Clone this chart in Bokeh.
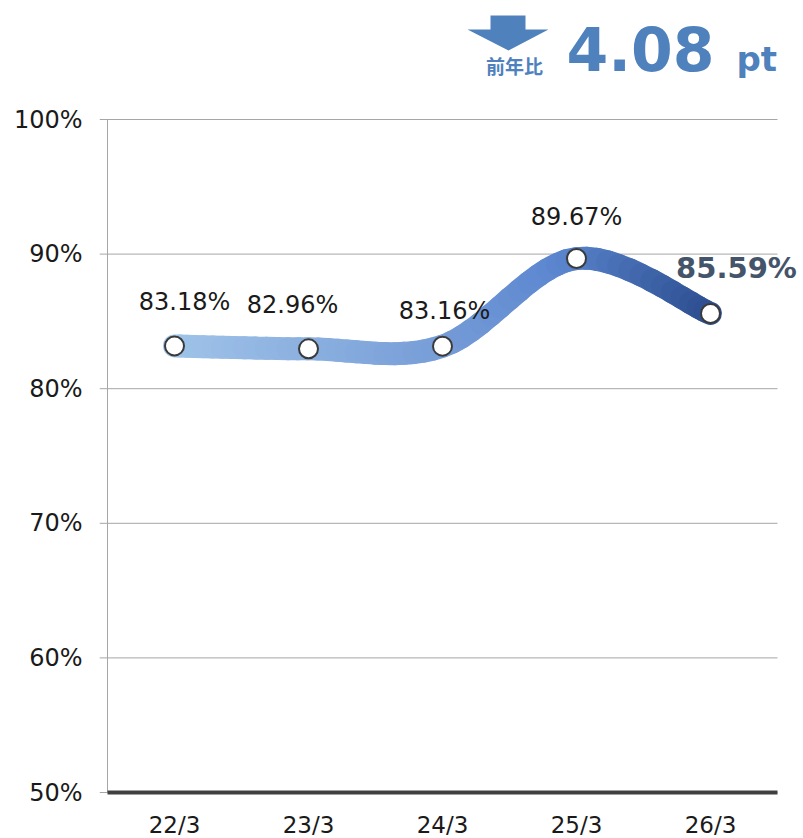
import numpy as np
from bokeh.plotting import figure
from bokeh.models import (Range1d, FixedTicker, PrintfTickFormatter, LabelSet,
                          PolyAnnotation, ColumnDataSource)
from bokeh.core.properties import value
from bokeh.embed import file_html
from bokeh.resources import INLINE

# ---------------- data ----------------
categories = ["22/3", "23/3", "24/3", "25/3", "26/3"]
rates = [83.18, 82.96, 83.16, 89.67, 85.59]
rate_labels = ["83.18%", "82.96%", "83.16%", "89.67%", "85.59%"]
y_ticks = [50, 60, 70, 80, 90, 100]
change_value = "4.08"
change_unit = "pt"
change_caption = "前年比"

# ---------------- styling / layout ----------------
label_dx = [10, -16, 2, 0, 26]
label_dy = [36, 36, 27, 34, 35]
FONT = "DejaVu Sans"
HEAD_BLUE = "#4f81bd"
grad_stops = [(0.0, (160, 196, 232)), (0.5, (120, 158, 216)),
              (0.72, (92, 135, 208)), (1.0, (46, 80, 146))]

W, H = 803, 838
PLOT_L, PLOT_R, PLOT_T, PLOT_B = 107, 777, 119, 792   # page pixels of the plotting area
TICK = 8
FRAME_L = PLOT_L - TICK

n = len(categories)
xs = np.arange(n, dtype=float)
ys = np.array(rates, dtype=float)

x_lo, x_hi = -0.5, n - 0.5
y_lo, y_hi = y_ticks[0], y_ticks[-1]
sx = (PLOT_R - PLOT_L) / (x_hi - x_lo)
sy = (PLOT_B - PLOT_T) / (y_hi - y_lo)

x_range = Range1d(x_lo - (PLOT_L - FRAME_L) / sx, x_hi + (W - PLOT_R) / sx)
y_range = Range1d(y_lo - (H - PLOT_B) / sy, y_hi + PLOT_T / sy)

p = figure(frame_width=W - FRAME_L, frame_height=H,
           min_border_left=FRAME_L, min_border_top=0, min_border_right=0, min_border_bottom=0,
           x_range=x_range, y_range=y_range,
           output_backend="svg", toolbar_location=None)
p.outline_line_color = None
p.background_fill_color = "white"
p.border_fill_color = "white"
p.xgrid.visible = False
p.ygrid.visible = False
p.xaxis.visible = False

# y axis: only labels
p.yaxis.ticker = FixedTicker(ticks=y_ticks)
p.yaxis.formatter = PrintfTickFormatter(format="%d%%")
p.yaxis.axis_line_color = None
p.yaxis.major_tick_line_color = None
p.yaxis.minor_tick_line_color = None
p.yaxis.major_tick_out = 0
p.yaxis.major_tick_in = 0
p.yaxis.major_label_standoff = 17
p.yaxis.major_label_text_font = FONT
p.yaxis.major_label_text_font_size = "24px"
p.yaxis.major_label_text_color = "#1a1a1a"

# gridlines (with their outer tick stubs) and axis lines
p.segment(x0=[x_range.start] * len(y_ticks), x1=[x_hi] * len(y_ticks), y0=y_ticks, y1=y_ticks,
          line_color="#a6a6a6", line_width=1)
p.segment(x0=[x_lo], x1=[x_lo], y0=[y_lo], y1=[y_hi], line_color="#a6a6a6", line_width=1)
p.segment(x0=[x_lo], x1=[x_hi], y0=[y_lo], y1=[y_lo], line_color="#404040", line_width=4)


def labels(x, y, text, size, color, bold=False, align="center", dx=0, dy=0, units="data",
           font=FONT):
    src = ColumnDataSource(dict(x=list(x), y=list(y), text=list(text),
                                dx=list(dx) if hasattr(dx, "__len__") else [dx] * len(text),
                                dy=list(dy) if hasattr(dy, "__len__") else [dy] * len(text)))
    p.add_layout(LabelSet(x="x", y="y", text="text", x_offset="dx", y_offset="dy", source=src,
                          x_units=units, y_units=units,
                          text_align=align, text_baseline="alphabetic",
                          text_font=value(font), text_font_size=value(size),
                          text_font_style=value("bold" if bold else "normal"),
                          text_color=value(color)))


# x category labels
labels(xs, [y_lo] * n, categories, "23px", "#1a1a1a", dy=-40)


# smooth ribbon: cubic bezier segments (Excel-like smoothing) drawn with a gradient
def grad_color(f):
    for (f0, c0), (f1, c1) in zip(grad_stops[:-1], grad_stops[1:]):
        if f <= f1:
            t = (f - f0) / (f1 - f0)
            c = [int(round(a + (b - a) * t)) for a, b in zip(c0, c1)]
            return "#%02x%02x%02x" % tuple(c)
    return "#%02x%02x%02x" % grad_stops[-1][1]


def lerp(a, b, t):
    return a + (b - a) * t


def split(bz, t):
    p0, p1, p2, p3 = bz
    a = lerp(p0, p1, t); b = lerp(p1, p2, t); c = lerp(p2, p3, t)
    d = lerp(a, b, t); e = lerp(b, c, t); f = lerp(d, e, t)
    return (p0, a, d, f), (f, e, c, p3)


pts = np.stack([xs, ys], axis=1)
seg = dict(x0=[], y0=[], x1=[], y1=[], cx0=[], cy0=[], cx1=[], cy1=[], color=[])
K = 14
for i in range(n - 1):
    P0, P3 = pts[i], pts[i + 1]
    prev = pts[i - 1] if i > 0 else pts[i]
    nxt = pts[i + 2] if i + 2 < n else pts[i + 1]
    C1 = P0 + (P3 - prev) / 6.0
    C2 = P3 - (nxt - P0) / 6.0
    bz = (P0, C1, C2, P3)
    for k in range(K):
        t0, t1 = k / K, (k + 1) / K
        left, _ = split(bz, t1)
        sub = split(left, t0 / t1)[1] if t0 > 0 else left
        q0, q1, q2, q3 = sub
        seg["x0"].append(q0[0]); seg["y0"].append(q0[1])
        seg["cx0"].append(q1[0]); seg["cy0"].append(q1[1])
        seg["cx1"].append(q2[0]); seg["cy1"].append(q2[1])
        seg["x1"].append(q3[0]); seg["y1"].append(q3[1])
        xm = (q0[0] + q3[0]) / 2.0
        seg["color"].append(grad_color(xm / (n - 1)))

p.bezier(x0="x0", y0="y0", x1="x1", y1="y1", cx0="cx0", cy0="cy0", cx1="cx1", cy1="cy1",
         source=ColumnDataSource(seg), line_color="color", line_width=23, line_cap="round")

# markers
p.scatter(xs, ys, size=19, fill_color="white", line_color="#3a3a3a", line_width=2)

# data labels
labels(xs[:-1], ys[:-1], rate_labels[:-1], "24px", "#1a1a1a", dx=label_dx[:-1], dy=label_dy[:-1])
labels(xs[-1:], ys[-1:], rate_labels[-1:], "29px", "#44546a", bold=True,
       dx=label_dx[-1:], dy=label_dy[-1:])

# header (screen units relative to the frame's bottom-left corner)
FL, FB = FRAME_L, H
arrow_px = [(490, 15), (525, 15), (525, 29), (548, 29), (508, 50), (467, 29), (490, 29)]
p.add_layout(PolyAnnotation(xs=[a - FL for a, _ in arrow_px], ys=[FB - b for _, b in arrow_px],
                            xs_units="screen", ys_units="screen",
                            fill_color=HEAD_BLUE, fill_alpha=1, line_color=None))
labels([514 - FL], [FB - 73], [change_caption], "19px", HEAD_BLUE, bold=True,
       units="screen", font="Noto Sans CJK JP")
labels([566 - FL], [FB - 70], [change_value], "60px", HEAD_BLUE, bold=True, align="left",
       units="screen")
labels([736 - FL], [FB - 70], [change_unit], "34px", HEAD_BLUE, bold=True, align="left",
       units="screen")

open("out.html", "w").write(file_html(p, INLINE))
